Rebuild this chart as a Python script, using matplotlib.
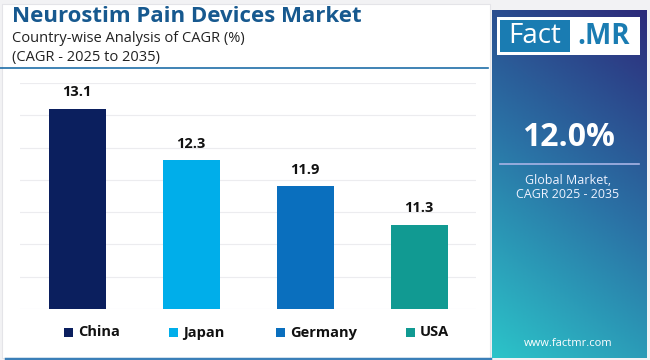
import matplotlib
matplotlib.use("Agg")
import matplotlib.pyplot as plt
import numpy as np
from matplotlib.patches import Rectangle
from matplotlib.colors import LinearSegmentedColormap

countries = ["China", "Japan", "Germany", "USA"]
cagr = [13.1, 12.3, 11.9, 11.3]
colors = ["#0b1f5e", "#00aeea", "#0a6fbe", "#119a92"]
global_cagr = "12.0%"
legend_x = [64, 169, 276, 406]

W, H = 650, 360
fig = plt.figure(figsize=(6.5, 3.6), dpi=100)
fig.patch.set_facecolor("#f2f2f4")
FONT = "Open Sans"

def fx(x): return x / W
def fy(y): return 1 - y / H

# white card
fig.patches.append(Rectangle((fx(2), fy(358)), fx(488), (356 - 2) / H, transform=fig.transFigure,
                             facecolor="white", edgecolor="#e4e4e8", lw=0.8, zorder=-10))
# title underline
fig.add_artist(plt.Line2D([fx(0), fx(488)], [fy(68), fy(68)], transform=fig.transFigure, color="#1f6ea8", lw=1.2))
# bottom line
fig.add_artist(plt.Line2D([fx(6), fx(490)], [fy(359), fy(359)], transform=fig.transFigure, color="#3a7fb8", lw=2.5))

fig.text(fx(12), fy(17), "Neurostim Pain Devices Market", fontsize=16, fontweight="bold",
         color="#17598f", va="center", ha="left", family=FONT)
fig.text(fx(12), fy(39), "Country-wise Analysis of CAGR (%)", fontsize=10.5, color="#222222",
         va="center", ha="left", family=FONT)
fig.text(fx(12), fy(58), "(CAGR - 2025 to 2035)", fontsize=10.5, color="#222222",
         va="center", ha="left", family=FONT)

# bar chart
ax = fig.add_axes([fx(20), fy(309), fx(456), (309 - 83) / H])
ax.set_facecolor("none")
x = np.arange(len(countries))
bars = ax.bar(x, cagr, width=0.5, color=colors, zorder=3)
ax.set_ylim(10, 13.5)
ax.set_xlim(-0.5, 3.5)
ax.set_yticks(np.arange(10, 13.51, 0.5))
ax.yaxis.grid(True, color="#ececef", lw=0.8, zorder=0)
ax.tick_params(left=False, bottom=False, labelleft=False, labelbottom=False)
for s in ax.spines.values():
    s.set_visible(False)
for b, v in zip(bars, cagr):
    ax.annotate(f"{v:.1f}", (b.get_x() + b.get_width() / 2, v), xytext=(0, 7),
                textcoords="offset points", ha="center", va="bottom", fontsize=10.5,
                fontweight="bold", color="#111111", family=FONT)

# legend (manual)
for lx, c, name in zip(legend_x, colors, countries):
    fig.patches.append(Rectangle((fx(lx), fy(337)), fx(9), 9 / H, transform=fig.transFigure,
                                 facecolor=c, edgecolor="none"))
    fig.text(fx(lx + 14), fy(332.5), name, fontsize=10.5, fontweight="bold", color="#111111",
             ha="left", va="center", family=FONT)

# right gradient panel
pax = fig.add_axes([fx(492), fy(358), fx(155), (358 - 10) / H])
cmap = LinearSegmentedColormap.from_list("g", ["#2cc4c9", "#2a73a6", "#2d2a7a"])
yy, xx = np.mgrid[0:1:200j, 0:1:100j]
grad = 0.75 * yy + 0.25 * xx
pax.imshow(grad, cmap=cmap, origin="lower", extent=[0, 1, 0, 1], aspect="auto", vmin=0, vmax=1)
pax.set_xlim(0, 1); pax.set_ylim(0, 1)
pax.axis("off")

# logo
fig.patches.append(Rectangle((fx(497), fy(55)), fx(143), 38 / H, transform=fig.transFigure,
                             facecolor="white", edgecolor="none", zorder=2))
fig.patches.append(Rectangle((fx(500), fy(52)), fx(70), 32 / H, transform=fig.transFigure,
                             facecolor="#1a7cb2", edgecolor="none", zorder=3))
fig.text(fx(535), fy(36), "Fact", fontsize=20, color="white", ha="center", va="center",
         family=FONT, zorder=4)
fig.text(fx(604), fy(36), ".MR", fontsize=20, color="#1a7cb2", fontweight="bold",
         ha="center", va="center", family=FONT, zorder=4)

fig.text(fx(568), fy(137), global_cagr, fontsize=23, fontweight="bold", color="white",
         ha="center", va="center", family=FONT)
fig.add_artist(plt.Line2D([fx(500), fx(639)], [fy(164), fy(164)], transform=fig.transFigure,
                          color="#a9b4e6", lw=1.2))
fig.text(fx(568), fy(180), "Global Market,", fontsize=9, color="#eef2ff", ha="center",
         va="center", family=FONT)
fig.text(fx(568), fy(195), "CAGR 2025 - 2035", fontsize=9, color="#eef2ff", ha="center",
         va="center", family=FONT)
fig.text(fx(568), fy(344), "www.factmr.com", fontsize=8, color="white", ha="center",
         va="center", family=FONT)

fig.savefig("out.png", dpi=100, facecolor=fig.get_facecolor())
